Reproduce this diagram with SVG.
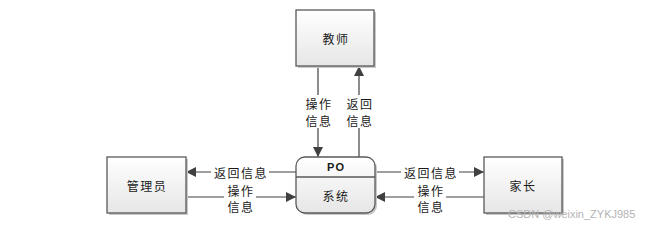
<svg xmlns="http://www.w3.org/2000/svg" width="652" height="228" viewBox="0 0 652 228">
<defs>
<linearGradient id="g" x1="0" y1="0" x2="0" y2="1">
<stop offset="0" stop-color="#ffffff"/>
<stop offset="1" stop-color="#e6e6e6"/>
</linearGradient>
<marker id="ah" viewBox="0 0 10 10" refX="10" refY="5" markerWidth="10" markerHeight="10" markerUnits="userSpaceOnUse" orient="auto">
<path d="M0,0 L10,5 L0,10 z" fill="#404040"/>
</marker>
</defs>
<style>
.box{fill:url(#g);stroke:#595959;stroke-width:1.3}
.sh{fill:#c8c8c8}
.t{font-family:"Noto Sans CJK SC","Noto Sans",sans-serif;font-size:12px;fill:#1a1a1a;text-anchor:middle;dominant-baseline:central}
.lb{letter-spacing:1.5px}
.ln{stroke:#404040;stroke-width:1.2;fill:none}
.bg{fill:#ffffff}
</style>
<g id="connectors">
<line class="ln" x1="318" y1="66" x2="318" y2="157" marker-end="url(#ah)"/>
<line class="ln" x1="359" y1="157" x2="359" y2="66" marker-end="url(#ah)"/>
<line class="ln" x1="296" y1="172" x2="186" y2="172" marker-end="url(#ah)"/>
<line class="ln" x1="186" y1="197" x2="296" y2="197" marker-end="url(#ah)"/>
<line class="ln" x1="375" y1="172" x2="484" y2="172" marker-end="url(#ah)"/>
<line class="ln" x1="484" y1="197" x2="375" y2="197" marker-end="url(#ah)"/>
<rect class="bg" x="302" y="95" width="32" height="33"/>
<rect class="bg" x="343" y="95" width="32" height="33"/>
<rect class="bg" x="211" y="164" width="58" height="16"/>
<rect class="bg" x="224" y="183" width="32" height="31"/>
<rect class="bg" x="401" y="164" width="58" height="16"/>
<rect class="bg" x="414" y="183" width="32" height="31"/>
<text class="t lb" x="319" y="103">操作</text>
<text class="t lb" x="319" y="120">信息</text>
<text class="t lb" x="360" y="103">返回</text>
<text class="t lb" x="360" y="120">信息</text>
<text class="t lb" x="241" y="172">返回信息</text>
<text class="t lb" x="241" y="190">操作</text>
<text class="t lb" x="241" y="206">信息</text>
<text class="t lb" x="431" y="172">返回信息</text>
<text class="t lb" x="431" y="190">操作</text>
<text class="t lb" x="431" y="206">信息</text>
</g>
<g id="teacher">
<rect class="sh" x="298" y="12" width="78" height="56"/>
<rect class="box" x="296" y="10" width="78" height="56"/>
<text class="t lb" x="336" y="38">教师</text>
</g>
<g id="admin">
<rect class="sh" x="109" y="159" width="79" height="56"/>
<rect class="box" x="107" y="157" width="79" height="56"/>
<text class="t lb" x="147" y="185">管理员</text>
</g>
<g id="system">
<rect class="sh" x="298" y="159" width="79" height="56" rx="9"/>
<rect class="box" x="296" y="157" width="79" height="56" rx="9"/>
<line x1="296" y1="177" x2="375" y2="177" stroke="#595959" stroke-width="1.3"/>
<text class="t" x="336" y="167" style="font-family:'Liberation Sans',sans-serif;font-size:11px;font-weight:bold;letter-spacing:1px">PO</text>
<text class="t lb" x="336" y="195">系统</text>
</g>
<g id="parent">
<rect class="sh" x="486" y="159" width="78" height="56"/>
<rect class="box" x="484" y="157" width="78" height="56"/>
<text class="t lb" x="523" y="185">家长</text>
</g>
<text x="508" y="218" style="font-family:'Liberation Sans',sans-serif;font-size:11px;fill:#b4b4b4">CSDN @weixin_ZYKJ985</text>
</svg>
